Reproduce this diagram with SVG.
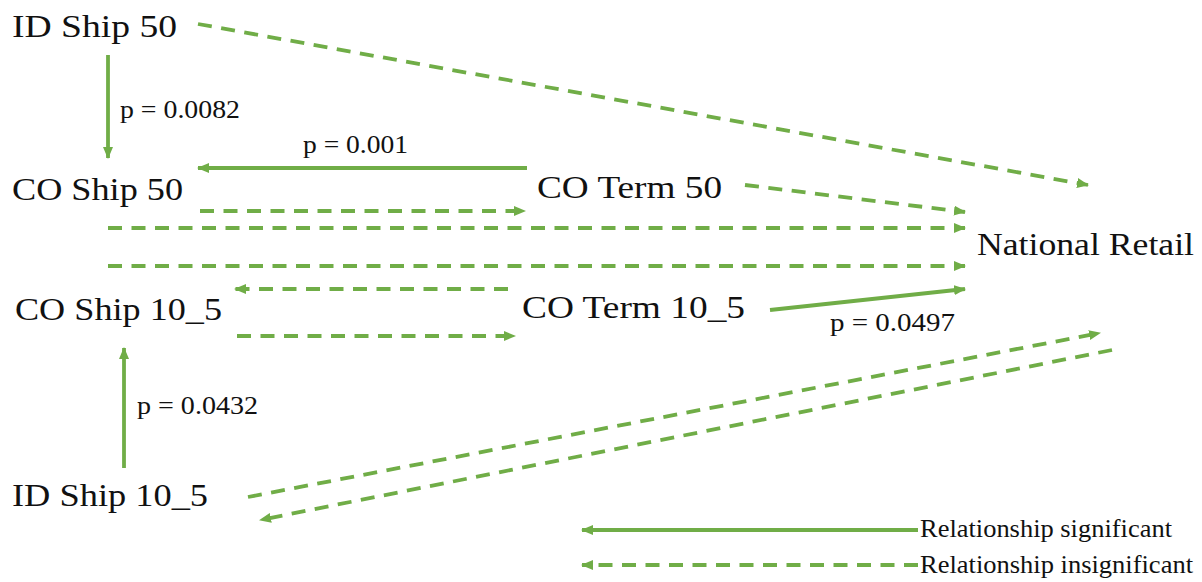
<svg xmlns="http://www.w3.org/2000/svg" width="1202" height="582" viewBox="0 0 1202 582">
<style>
.node text{font-family:"Liberation Serif","Times New Roman",serif;fill:#111;}
.lbl{font-size:32px;}
.p{font-family:"Liberation Serif","Times New Roman",serif;font-size:25px;fill:#111;}
.leg{font-family:"Liberation Serif","Times New Roman",serif;font-size:25px;fill:#111;}
.sig{stroke:#70ad47;stroke-width:3.8;fill:none;marker-end:url(#ah);}
.ins{stroke:#70ad47;stroke-width:3.8;fill:none;stroke-dasharray:14 9.5;marker-end:url(#ah);}
</style>
<defs>
<marker id="ah" viewBox="0 0 12 10" refX="11" refY="5" markerWidth="12" markerHeight="10" markerUnits="userSpaceOnUse" orient="auto">
<path d="M0,0 L12,5 L0,10 z" fill="#70ad47"/>
</marker>
</defs>
<g id="nodes">
<g id="id-ship-50" class="node"><text class="lbl" x="12" y="37" textLength="165" lengthAdjust="spacingAndGlyphs">ID Ship 50</text></g>
<g id="co-ship-50" class="node"><text class="lbl" x="12" y="200" textLength="171" lengthAdjust="spacingAndGlyphs">CO Ship 50</text></g>
<g id="co-term-50" class="node"><text class="lbl" x="537" y="198" textLength="185" lengthAdjust="spacingAndGlyphs">CO Term 50</text></g>
<g id="national-retail" class="node"><text class="lbl" x="977" y="255" textLength="217" lengthAdjust="spacingAndGlyphs">National Retail</text></g>
<g id="co-ship-10-5" class="node"><text class="lbl" x="15" y="320" textLength="207" lengthAdjust="spacingAndGlyphs">CO Ship 10_5</text></g>
<g id="co-term-10-5" class="node"><text class="lbl" x="522" y="318" textLength="223" lengthAdjust="spacingAndGlyphs">CO Term 10_5</text></g>
<g id="id-ship-10-5" class="node"><text class="lbl" x="12" y="506" textLength="196" lengthAdjust="spacingAndGlyphs">ID Ship 10_5</text></g>
</g>
<g id="connectors">
<line class="sig" x1="108" y1="55" x2="108" y2="158"/>
<line class="sig" x1="527" y1="168" x2="198" y2="168"/>
<line class="ins" x1="198" y1="24" x2="1088" y2="185"/>
<line class="ins" x1="745" y1="185" x2="965" y2="212"/>
<line class="ins" x1="200" y1="211" x2="525" y2="211"/>
<line class="ins" x1="108" y1="228" x2="965" y2="228"/>
<line class="ins" x1="108" y1="266" x2="965" y2="266"/>
<line class="ins" x1="508" y1="289" x2="235" y2="289"/>
<line class="sig" x1="770" y1="310" x2="965" y2="289"/>
<line class="ins" x1="237" y1="336" x2="515" y2="336"/>
<line class="sig" x1="124" y1="468" x2="124" y2="348"/>
<line class="ins" x1="248" y1="497" x2="1100" y2="333"/>
<line class="ins" x1="1112" y1="350" x2="260" y2="520"/>
<text class="p" x="120" y="118" textLength="120" lengthAdjust="spacingAndGlyphs">p = 0.0082</text>
<text class="p" x="303" y="153" textLength="105" lengthAdjust="spacingAndGlyphs">p = 0.001</text>
<text class="p" x="830" y="331" textLength="125" lengthAdjust="spacingAndGlyphs">p = 0.0497</text>
<text class="p" x="137" y="414" textLength="121" lengthAdjust="spacingAndGlyphs">p = 0.0432</text>
</g>
<g id="legend">
<line class="sig" x1="918" y1="530" x2="582" y2="530"/>
<line class="ins" x1="918" y1="565" x2="582" y2="565"/>
<text class="leg" x="920" y="537" textLength="252" lengthAdjust="spacingAndGlyphs">Relationship significant</text>
<text class="leg" x="920" y="573" textLength="273" lengthAdjust="spacingAndGlyphs">Relationship insignificant</text>
</g>
</svg>
